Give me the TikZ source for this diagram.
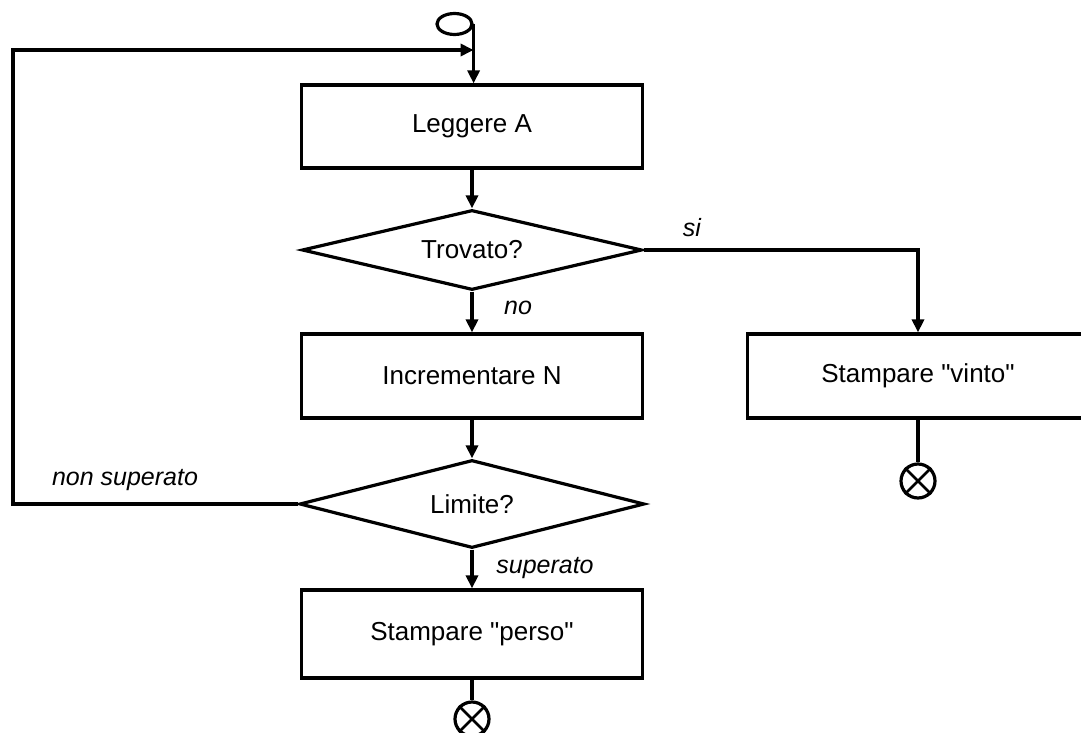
\documentclass[tikz,border=0pt]{standalone}
\usepackage{fontspec}
\newfontfamily\diagfont{Liberation Sans}
\usetikzlibrary{shapes.geometric,arrows.meta}
\begin{document}
\begin{tikzpicture}[x=1pt,y=-1pt,
  line width=3.2pt,
  every node/.style={font=\diagfont\fontsize{26}{30}\selectfont},
  proc/.style={draw, rectangle, minimum width=341pt, inner sep=0pt},
  dec/.style={draw, diamond, aspect=4.3, inner sep=0pt},
  term/.style={draw, circle, minimum size=34pt, inner sep=0pt},
  lbl/.style={font=\diagfont\fontsize{25}{30}\selectfont\itshape},
  arr/.style={-{Triangle[length=13pt,width=12pt]}}]
\useasboundingbox (0,0) rectangle (1081,733);
\node[draw, ellipse, minimum width=35pt, minimum height=21pt, inner sep=0pt] (start) at (454.5,24) {};
\node[proc, minimum height=83pt] (b1) at (472,126.5) {Leggere A};
\node[dec, minimum width=340pt, minimum height=80pt] (d1) at (472,250) {Trovato?};
\node[proc, minimum height=84pt] (b2) at (472,376) {Incrementare N};
\node[proc, minimum height=84pt] (vinto) at (918,376) {Stampare "vinto"};
\node[dec, minimum width=345pt, minimum height=88pt] (d2) at (472,504) {Limite?};
\node[proc, minimum height=88pt] (perso) at (472,634) {Stampare "perso"};
\node[term] (e1) at (918,481) {};
\node[term] (e2) at (472,719) {};
\draw[line width=2.8pt] (e1.45) -- (e1.225) (e1.135) -- (e1.315);
\draw[line width=2.8pt] (e2.45) -- (e2.225) (e2.135) -- (e2.315);
\coordinate (lc) at (13,50);
% connectors
\draw[arr] (start.east) -- (start.east |- b1.north);
\draw[arr] (d2.west) -| (lc) -- (lc -| start.east);
\draw[arr] (b1.south) -- (d1.north);
\draw[arr] (d1.south) -- (b2.north);
\draw[arr] (d1.east) -| (vinto.north);
\draw[arr] (b2.south) -- (d2.north);
\draw[arr] (d2.south) -- (perso.north);
\draw (vinto.south) -- (e1.north);
\draw (perso.south) -- (e2.north);
% labels
\node[lbl] (lsi) at (692,228) {si};
\node[lbl] (lno) at (518,308) {no};
\node[lbl] (lns) at (125,480) {non superato};
\node[lbl] (lsup) at (545,568) {superato};
\end{tikzpicture}
\end{document}
